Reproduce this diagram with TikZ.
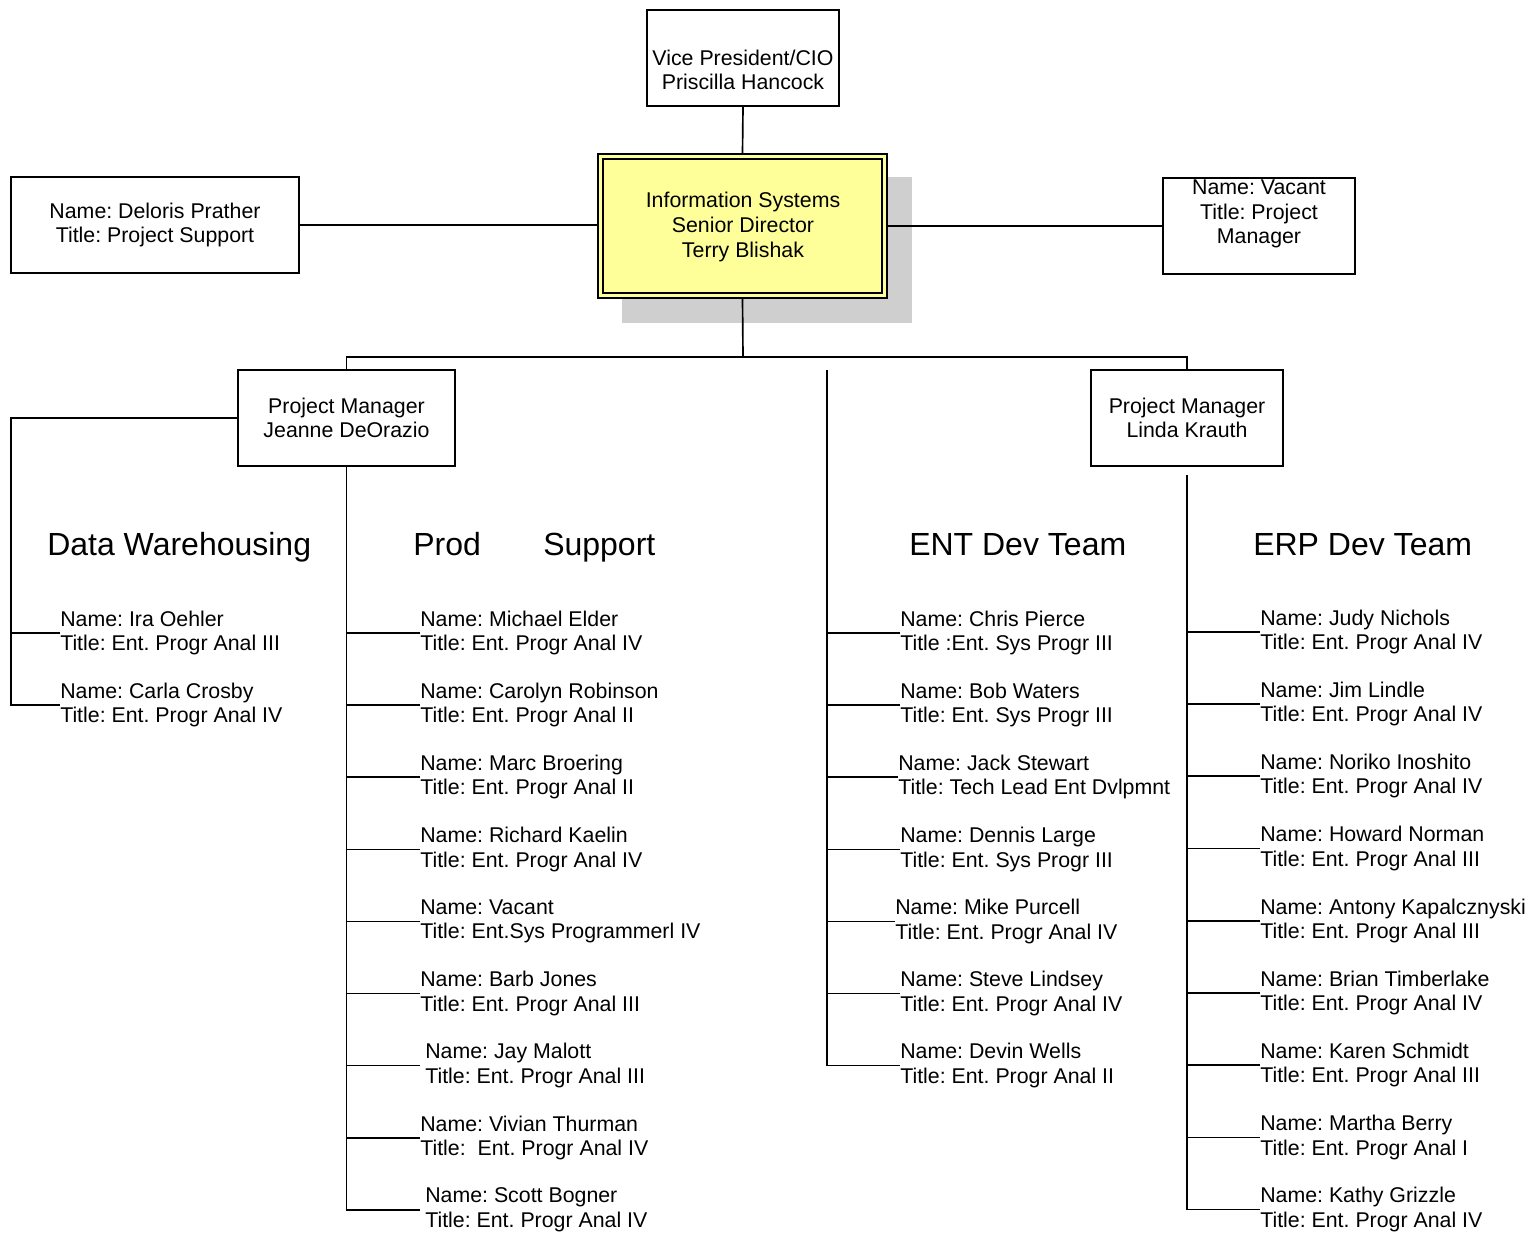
\documentclass[tikz,border=0pt]{standalone}
\usepackage{fontspec}
\setmainfont{Liberation Sans}
\usetikzlibrary{fit}
\definecolor{boxyellow}{HTML}{FFFF99}
\definecolor{shadowgray}{HTML}{CFCFCF}
\newcommand\bodyfont{\frenchspacing\fontsize{16}{18.4}\selectfont}
\newcommand\headfont{\frenchspacing\fontsize{24}{28}\selectfont}
\newcommand\ind{\hspace*{3.75pt}}
\begin{document}
\begin{tikzpicture}[x=0.75pt,y=-0.75pt,
  box/.style={draw, line width=1.3pt, inner sep=0pt},
  txt/.style={align=center, inner sep=0pt, font=\bodyfont},
  mem/.style={anchor=west, align=left, inner sep=0pt, font=\bodyfont},
  head/.style={anchor=base west, inner sep=0pt, font=\headfont},
  conn/.style={line width=1.25pt}]
\useasboundingbox (0,0) rectangle (1532,1235);

% ---------- boxes ----------
\node[box, fill=shadowgray, draw=none, fit={(622,177) (912,323)}] (shadow) {};
\node[box, fill=boxyellow, fit={(598,154) (887,298)}] (sd) {};
\node[box, fit={(603,159) (882,293)}] (sdin) {};
\node[txt] (sdt) at (743,227) {Information Systems\\Senior Director\\Terry Blishak};

\node[box, fit={(647,10) (839,106)}] (vp) {};
\node[txt] (vpt) at (743,70) {Vice President/CIO\\Priscilla Hancock};

\node[box, fit={(11,177) (299,273)}] (dp) {};
\node[txt] (dpt) at (155,225) {Name: Deloris Prather\\Title: Project Support};

\node[box, fit={(1163,178) (1355,274)}] (vac) {};
\node[txt] (vact) at (1259,214) {Name: Vacant\\Title: Project\\Manager};

\node[box, fit={(238,370) (455,466)}] (pm1) {};
\node[txt] (pm1t) at (346.5,418) {Project Manager\\Jeanne DeOrazio};

\node[box, fit={(1091,370) (1283,466)}] (pm2) {};
\node[txt] (pm2t) at (1187,418) {Project Manager\\Linda Krauth};

% ---------- headings ----------
\node[head] (h1) at (47,555) {Data Warehousing};
\node[head] (h2) at (413,555) {Prod\hspace{46.8pt}Support};
\node[head] (h3) at (909,555) {ENT Dev Team};
\node[head] (h4) at (1253,555) {ERP Dev Team};

% ---------- Data Warehousing ----------
\node[mem] (dw1) at (60,633) {Name: Ira Oehler\\Title: Ent. Progr Anal III};
\node[mem] (dw2) at (60,705) {Name: Carla Crosby\\Title: Ent. Progr Anal IV};

% ---------- Prod Support ----------
\node[mem] (ps1) at (420,633) {Name: Michael Elder\\Title: Ent. Progr Anal IV};
\node[mem] (ps2) at (420,705) {Name: Carolyn Robinson\\Title: Ent. Progr Anal II};
\node[mem] (ps3) at (420,777) {Name: Marc Broering\\Title: Ent. Progr Anal II};
\node[mem] (ps4) at (420,849.5) {Name: Richard Kaelin\\Title: Ent. Progr Anal IV};
\node[mem] (ps5) at (420,921.5) {Name: Vacant\\Title: Ent.Sys Programmerl IV};
\node[mem] (ps6) at (420,993.5) {Name: Barb Jones\\Title: Ent. Progr Anal III};
\node[mem] (ps7) at (420,1065.5) {\ind Name: Jay Malott\\\ind Title: Ent. Progr Anal III};
\node[mem] (ps8) at (420,1138) {Name: Vivian Thurman\\Title:\ \ Ent. Progr Anal IV};
\node[mem] (ps9) at (420,1210) {\ind Name: Scott Bogner\\\ind Title: Ent. Progr Anal IV};

% ---------- ENT Dev Team ----------
\node[mem] (en1) at (900,633) {Name: Chris Pierce\\Title :Ent. Sys Progr III};
\node[mem] (en2) at (900,705) {Name: Bob Waters\\Title: Ent. Sys Progr III};
\node[mem] (en3) at (898,777) {Name: Jack Stewart\\Title: Tech Lead Ent Dvlpmnt};
\node[mem] (en4) at (900,849.5) {Name: Dennis Large\\Title: Ent. Sys Progr III};
\node[mem] (en5) at (895,921.5) {Name: Mike Purcell\\Title: Ent. Progr Anal IV};
\node[mem] (en6) at (900,993.5) {Name: Steve Lindsey\\Title: Ent. Progr Anal IV};
\node[mem] (en7) at (900,1065.5) {Name: Devin Wells\\Title: Ent. Progr Anal II};

% ---------- ERP Dev Team ----------
\node[mem] (er1) at (1260,632) {Name: Judy Nichols\\Title: Ent. Progr Anal IV};
\node[mem] (er2) at (1260,704) {Name: Jim Lindle\\Title: Ent. Progr Anal IV};
\node[mem] (er3) at (1260,776) {Name: Noriko Inoshito\\Title: Ent. Progr Anal IV};
\node[mem] (er4) at (1260,848.5) {Name: Howard Norman\\Title: Ent. Progr Anal III};
\node[mem] (er5) at (1260,921) {Name: Antony Kapalcznyski\\Title: Ent. Progr Anal III};
\node[mem] (er6) at (1260,993) {Name: Brian Timberlake\\Title: Ent. Progr Anal IV};
\node[mem] (er7) at (1260,1065) {Name: Karen Schmidt\\Title: Ent. Progr Anal III};
\node[mem] (er8) at (1260,1137.5) {Name: Martha Berry\\Title: Ent. Progr Anal I};
\node[mem] (er9) at (1260,1209.5) {Name: Kathy Grizzle\\Title: Ent. Progr Anal IV};

% ---------- connectors ----------
\draw[conn] (vp.south) -- (sd.north);
\draw[conn] (dp.east) -- (dp.east -| sd.west);
\draw[conn] (sd.east) -- (sd.east -| vac.west);
\coordinate (bus) at (743,357);
\draw[conn] (sd.south) -- (bus);
\draw[conn] (pm1.north) |- (bus) -| (pm2.north);

% Data Warehousing
\coordinate (dwc) at (11,705);
\draw[conn] (pm1.west) -| (dwc) -- (dw2.west);
\draw[conn] (dw1.west) -- (dw1.west -| dwc);

% Prod Support
\draw[conn] (pm1.south) |- (ps9.west);
\foreach \i in {1,...,8} \draw[conn] (ps\i.west) -- (ps\i.west -| pm1.south);

% ENT Dev Team
\coordinate (entTop) at (827,370);
\draw[conn] (entTop) |- (en7.west);
\foreach \i in {1,...,6} \draw[conn] (en\i.west) -- (en\i.west -| entTop);

% ERP Dev Team
\coordinate (erpTop) at (1187,475);
\draw[conn] (erpTop) |- (er9.west);
\foreach \i in {1,...,8} \draw[conn] (er\i.west) -- (er\i.west -| erpTop);
\end{tikzpicture}
\end{document}
